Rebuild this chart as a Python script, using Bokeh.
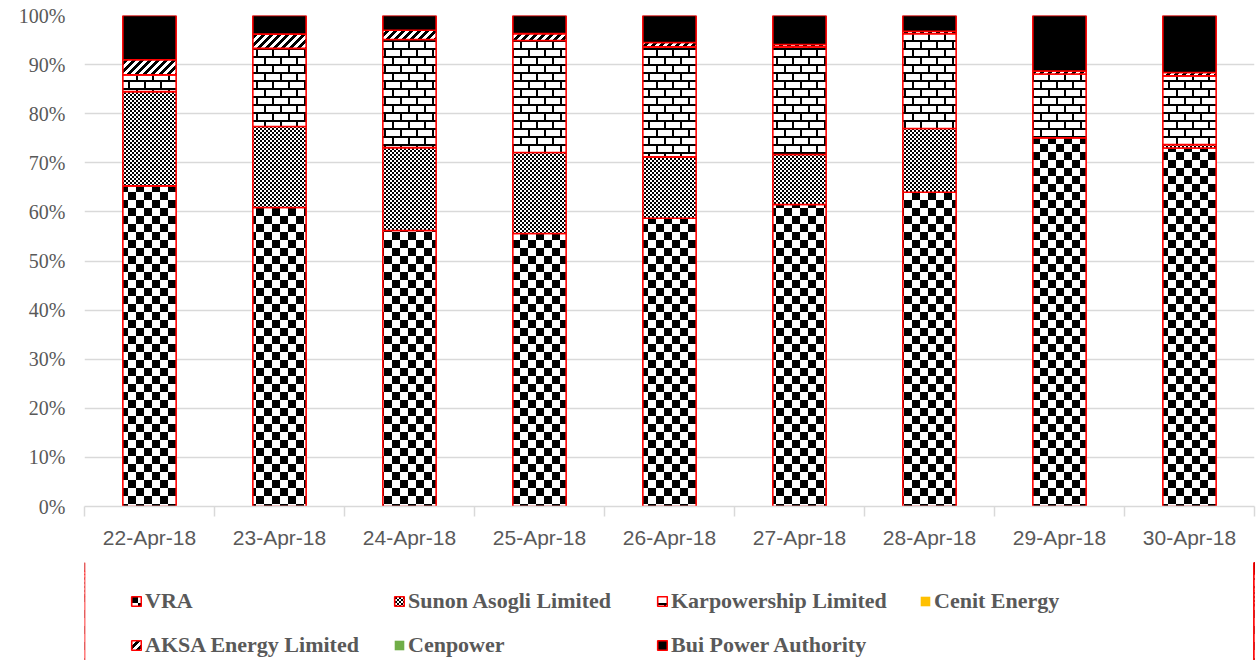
import zlib, struct, base64
from bokeh.plotting import figure
from bokeh.layouts import column
from bokeh.models import (ColumnDataSource, FixedTicker, PrintfTickFormatter, Legend,
                          LegendItem, ImageURLTexture, Range1d)
from bokeh.core.properties import value
from bokeh.transform import stack
from bokeh.embed import file_html
from bokeh.resources import INLINE

dates = ["22-Apr-18", "23-Apr-18", "24-Apr-18", "25-Apr-18", "26-Apr-18",
         "27-Apr-18", "28-Apr-18", "29-Apr-18", "30-Apr-18"]
vra = [65.3, 60.9, 56.2, 55.6, 58.7, 61.5, 64.0, 75.1, 73.0]
sunon = [19.2, 16.5, 16.9, 16.5, 12.5, 10.2, 13.0, 0.0, 0.7]
karpowership = [3.4, 15.9, 22.0, 22.8, 22.4, 21.9, 19.3, 13.0, 14.0]
cenit = [0, 0, 0, 0, 0, 0, 0, 0, 0]
aksa = [3.1, 2.9, 1.9, 1.4, 0.9, 0.5, 0.5, 0.6, 0.7]
cenpower = [0, 0, 0, 0, 0, 0, 0, 0, 0]
bui = [9.0, 3.8, 3.0, 3.7, 5.5, 5.9, 3.2, 11.3, 11.6]

series_names = ["VRA", "Sunon Asogli Limited", "Karpowership Limited", "Cenit Energy",
                "AKSA Energy Limited", "Cenpower", "Bui Power Authority"]
series_vals = [vra, sunon, karpowership, cenit, aksa, cenpower, bui]
keys = ["vra", "sunon", "karp", "cenit", "aksa", "cenpower", "bui"]

xpos = list(range(1, len(dates) + 1))
data = {"x": xpos}
for k, v in zip(keys, series_vals):
    data[k] = v
src = ColumnDataSource(data)


def png_url(rows):
    raw = b""
    for r in rows:
        line = bytearray(b"\x00")
        for v in r:
            line += bytes([0, 0, 0, 255]) if v else bytes([255, 255, 255, 255])
        raw += bytes(line)
    h = len(rows)
    w = len(rows[0])

    def chunk(t, d):
        return struct.pack(">I", len(d)) + t + d + struct.pack(">I", zlib.crc32(t + d) & 0xffffffff)
    png = (b"\x89PNG\r\n\x1a\n" + chunk(b"IHDR", struct.pack(">IIBBBBB", w, h, 8, 6, 0, 0, 0))
           + chunk(b"IDAT", zlib.compress(raw)) + chunk(b"IEND", b""))
    return "data:image/png;base64," + base64.b64encode(png).decode()


def brick_px(c, r):
    if r in (0, 1, 8, 9):
        return 1
    if r < 8 and c in (0, 1):
        return 1
    if r >= 8 and c in (8, 9):
        return 1
    return 0


tex = {
    "chkbig": ImageURLTexture(url=png_url(
        [[1 if ((c // 8) + (r // 8)) % 2 == 0 else 0 for c in range(16)] for r in range(16)])),
    "chksmall": ImageURLTexture(url=png_url(
        [[1 if ((c // 2) + (r // 2)) % 2 == 0 else 0 for c in range(4)] for r in range(4)])),
    "brick": ImageURLTexture(url=png_url(
        [[brick_px(c, r) for c in range(16)] for r in range(16)])),
    "updiag": ImageURLTexture(url=png_url(
        [[1 if (c + r) % 8 < 4 else 0 for c in range(8)] for r in range(8)])),
}

RED = "#FF0000"
styles = {
    "vra": dict(fill_color="white", line_color=RED, hatch_pattern=value("chkbig"),
                hatch_extra={"chkbig": tex["chkbig"]}),
    "sunon": dict(fill_color="white", line_color=RED, hatch_pattern=value("chksmall"),
                  hatch_extra={"chksmall": tex["chksmall"]}),
    "karp": dict(fill_color="white", line_color=RED, hatch_pattern=value("brick"),
                 hatch_extra={"brick": tex["brick"]}),
    "cenit": dict(fill_color="#FFC000", line_color=None),
    "aksa": dict(fill_color="white", line_color=RED, hatch_pattern=value("updiag"),
                 hatch_extra={"updiag": tex["updiag"]}),
    "cenpower": dict(fill_color="#70AD47", line_color=None),
    "bui": dict(fill_color="black", line_color=RED),
}

W = 1257
H1 = 562
H2 = 98

p = figure(width=W, height=H1, output_backend="svg", toolbar_location=None,
           x_range=Range1d(0.5, len(dates) + 0.5), y_range=Range1d(0, 100),
           min_border_left=84, min_border_right=3, min_border_top=15, min_border_bottom=56)
p.outline_line_color = None

for i, k in enumerate(keys):
    p.vbar(x="x", width=0.41, bottom=stack(*keys[:i]) if i else 0, top=stack(*keys[:i + 1]),
           source=src, line_width=1.6, **styles[k])

p.xgrid.grid_line_color = None
p.ygrid.grid_line_color = "#D9D9D9"
p.ygrid.grid_line_width = 1.3
p.yaxis.ticker = FixedTicker(ticks=list(range(0, 101, 10)))
p.yaxis.formatter = PrintfTickFormatter(format="%d%%")
p.yaxis.axis_line_color = None
p.yaxis.major_tick_line_color = None
p.yaxis.minor_tick_line_color = None
p.yaxis.major_label_text_font = "Liberation Serif"
p.yaxis.major_label_text_font_size = "20px"
p.yaxis.major_label_text_color = "#595959"
p.yaxis.major_label_standoff = 13

p.xaxis.ticker = FixedTicker(ticks=xpos, minor_ticks=[x - 0.5 for x in xpos] + [len(dates) + 0.5])
p.xaxis.major_label_overrides = {x: d for x, d in zip(xpos, dates)}
p.xaxis.axis_line_color = "#D9D9D9"
p.xaxis.axis_line_width = 1.5
p.xaxis.major_tick_line_color = None
p.xaxis.minor_tick_line_color = "#D9D9D9"
p.xaxis.minor_tick_line_width = 1.5
p.xaxis.minor_tick_in = 0
p.xaxis.minor_tick_out = 10
p.xaxis.major_label_text_font = "Liberation Sans"
p.xaxis.major_label_text_font_size = "21px"
p.xaxis.major_label_text_color = "#595959"
p.xaxis.major_label_standoff = 9

# legend panel: the same series drawn against an x window that falls in the gap
# between two bars, so only the legend swatches are visible
p2 = figure(width=W, height=H2, output_backend="svg", toolbar_location=None,
            x_range=Range1d(1.25, 1.7), y_range=Range1d(0, 100),
            x_axis_location=None, y_axis_location=None,
            min_border_left=0, min_border_right=0, min_border_top=0, min_border_bottom=0)
p2.outline_line_color = None
p2.grid.visible = False
items = []
for i, k in enumerate(keys):
    r = p2.vbar(x="x", width=0.41, bottom=stack(*keys[:i]) if i else 0,
                top=stack(*keys[:i + 1]), source=src, line_width=1.6, **styles[k])
    items.append(LegendItem(label=series_names[i], renderers=[r]))

legend = Legend(items=items, orientation="horizontal", ncols=4, location=(46, 2),
                label_text_font="Liberation Serif", label_text_font_style="bold",
                label_text_font_size="22px", label_text_color="#595959",
                glyph_width=12, glyph_height=12, label_standoff=3, spacing=18,
                label_width=230, label_height=22,
                padding=0, margin=0, border_line_color=None, background_fill_alpha=0)
p2.add_layout(legend, "center")

open("out.html", "w").write(file_html(column(p, p2, spacing=0), INLINE))
